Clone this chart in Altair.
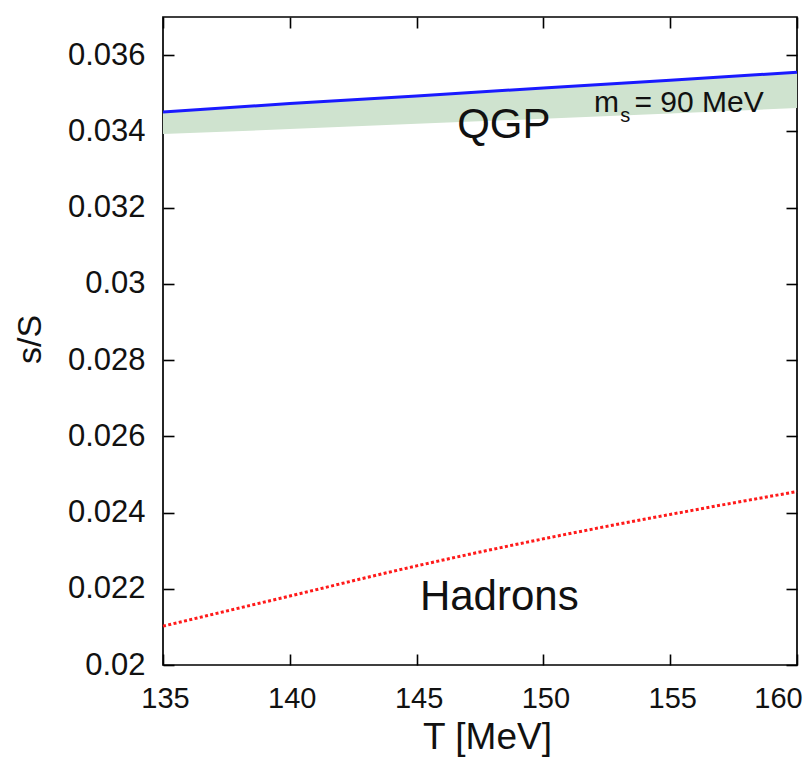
import altair as alt
import pandas as pd

# ---- data ----
T = [135, 140, 145, 150, 155, 160]
qgp_upper = [0.03451, 0.03473, 0.03493, 0.03514, 0.03534, 0.03555]
qgp_lower = [0.03393, 0.03406, 0.03420, 0.03433, 0.03447, 0.03461]
hadrons = [0.02102, 0.02181, 0.02260, 0.02331, 0.02395, 0.02455]

x_ticks = [135, 140, 145, 150, 155, 160]
y_ticks = [0.020, 0.022, 0.024, 0.026, 0.028, 0.030, 0.032, 0.034, 0.036]

labels_big = ["QGP", "Hadrons"]
labels_big_T = [148.44, 148.26]
labels_big_s = [0.03382, 0.021443]

ms_text = ["m", "s", "= 90 MeV"]
ms_T = [152.0, 153.03, 153.59]
ms_s = [0.034505, 0.034243, 0.034505]

FONT = "Liberation Sans"

df = pd.DataFrame({"T": T, "s": qgp_upper, "s2": qgp_lower})
dfh = pd.DataFrame({"T": T, "s": hadrons})
dft = pd.DataFrame({"label": labels_big, "T": labels_big_T, "s": labels_big_s})
dfm = pd.DataFrame({"label": ms_text, "T": ms_T, "s": ms_s})

xscale = alt.Scale(domain=[135, 160], nice=False, zero=False)
yscale = alt.Scale(domain=[0.020, 0.037], nice=False, zero=False)

x_axis = alt.Axis(
    values=x_ticks, format="d", orient="bottom", offset=-11, domain=False,
    grid=False, tickSize=11, tickWidth=1.6, tickColor="black",
    labelFontSize=29, labelFont=FONT, labelColor="#111", labelPadding=19,
    labelFlush=False, labelOverlap=False,
    labelOffset={"condition": {"test": "datum.value == 160", "value": -19}, "value": 2},
    titleFontSize=37, titleFont=FONT, titleColor="#111", titleFontWeight="normal",
    titleBaseline="alphabetic", titleY=94, titleX=324,
)
y_axis = alt.Axis(
    values=y_ticks, orient="left", offset=-11, domain=False, grid=False,
    tickSize=11, tickWidth=1.6, tickColor="black",
    labelFontSize=31, labelFont=FONT, labelColor="#111", labelPadding=18,
    labelFlush=False, labelOverlap=False, labelExpr="format(datum.value, '.3~f')",
    titleFontSize=34, titleFont=FONT, titleColor="#111", titleFontWeight="normal",
    titleBaseline="alphabetic", titleAngle=270, titleX=-134, titleY=322,
    titleAlign="center",
)

X = alt.X("T:Q", scale=xscale, axis=x_axis, title="T [MeV]")
Y = alt.Y("s:Q", scale=yscale, axis=y_axis, title="s/S")

band = alt.Chart(df).mark_area(color="#cfe3cf", opacity=1).encode(
    x=X, y=Y, y2=alt.Y2("s2:Q")
)
blue = alt.Chart(df).mark_line(color="#1a1aff", strokeWidth=3).encode(x=X, y=Y)
red = alt.Chart(dfh).mark_line(
    color="#ff1a1a", strokeWidth=3, strokeDash=[3, 2.4], interpolate="monotone"
).encode(x=X, y=Y)

big_text = alt.Chart(dft).mark_text(
    font=FONT, fontSize=42, align="center", baseline="alphabetic", color="#111"
).encode(x=X, y=Y, text="label:N")

ms_main = alt.Chart(dfm[dfm["label"] != "s"]).mark_text(
    font=FONT, fontSize=30, align="left", baseline="alphabetic", color="#111"
).encode(x=X, y=Y, text="label:N")
ms_sub = alt.Chart(dfm[dfm["label"] == "s"]).mark_text(
    font=FONT, fontSize=20, align="left", baseline="alphabetic", color="#111"
).encode(x=X, y=Y, text="label:N")

main = alt.layer(band, blue, red, big_text, ms_main, ms_sub)

frame_axes = alt.Chart(df).mark_point(opacity=0).encode(
    x=alt.X("T:Q", scale=xscale, title="", axis=alt.Axis(
        values=x_ticks, orient="top", offset=-11, domain=False, grid=False,
        labels=False, tickSize=11, tickWidth=1.6, tickColor="black")),
    y=alt.Y("s:Q", scale=yscale, title="", axis=alt.Axis(
        values=y_ticks, orient="right", offset=-11, domain=False, grid=False,
        labels=False, tickSize=11, tickWidth=1.6, tickColor="black")),
)

chart = alt.layer(main, frame_axes).resolve_axis(
    x="independent", y="independent"
).properties(
    width=634, height=648,
    autosize=alt.AutoSizeParams(type="none"),
    padding={"left": 155, "top": 9, "right": 6, "bottom": 94},
    background="white",
).configure_view(stroke="black", strokeWidth=1.7)

chart.save("out.html", embed_options={"renderer": "svg", "actions": False})
